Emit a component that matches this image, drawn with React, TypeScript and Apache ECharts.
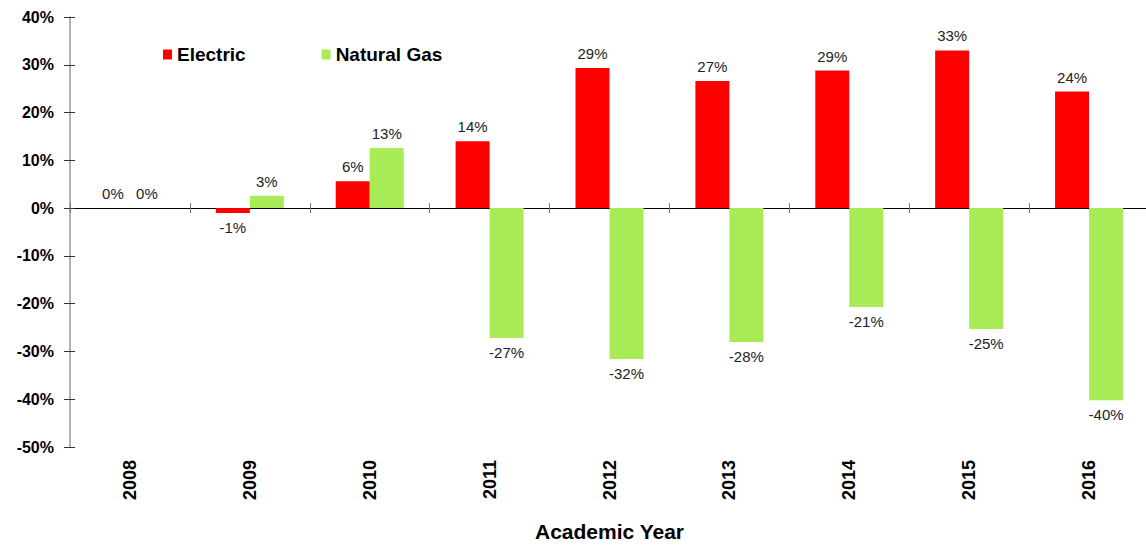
import React, { useEffect, useRef } from "react";
import * as echarts from "echarts";

const categories = ["2008", "2009", "2010", "2011", "2012", "2013", "2014", "2015", "2016"];
const electric = [0, -1.0, 5.6, 14.0, 29.3, 26.6, 28.8, 33.0, 24.4];
const naturalGas = [0, 2.6, 12.6, -27.2, -31.6, -28.0, -20.7, -25.3, -40.2];
const seriesNames = ["Electric", "Natural Gas"];
const yTicks = { min: -50, max: 40, interval: 10 };

const FONT = "'Liberation Sans', Arial, sans-serif";

function toItems(values: number[]) {
  return values.map((v) => ({
    value: v,
    label: { position: v < 0 ? "bottom" : "top" },
  }));
}

export default function App() {
  const ref = useRef<HTMLDivElement>(null);
  useEffect(() => {
    if (!ref.current) return;
    const chart = echarts.init(ref.current, undefined, { renderer: "svg" });
    const barLabel = {
      show: true,
      distance: 7,
      fontSize: 15,
      fontFamily: FONT,
      color: "#222",
      formatter: (p: any) => Math.round(p.value) + "%",
    };
    chart.setOption({
      animation: false,
      textStyle: { fontFamily: FONT },
      legend: {
        data: seriesNames,
        left: 158,
        top: 40,
        icon: "rect",
        itemWidth: 9,
        itemHeight: 10,
        itemGap: 76,
        textStyle: { fontSize: 19, fontWeight: "bold", color: "#000", fontFamily: FONT },
      },
      grid: {
        left: 70,
        right: -3,
        top: 17,
        bottom: 98,
        containLabel: false,
        outerBoundsMode: "none",
      },
      xAxis: [
        {
          type: "category",
          data: categories,
          position: "bottom",
          axisLine: { onZero: true, onZeroAxisIndex: 0, lineStyle: { color: "#000", width: 1 } },
          axisTick: { show: true, length: 5, lineStyle: { color: "#777" } },
          axisLabel: { show: false },
        },
        {
          type: "category",
          data: categories,
          position: "top",
          axisLine: { show: false, onZero: true, onZeroAxisIndex: 0 },
          axisTick: { show: true, length: 5, lineStyle: { color: "#777" } },
          axisLabel: { show: false },
        },
        {
          type: "category",
          data: categories,
          position: "bottom",
          axisLine: { show: false, onZero: false },
          axisTick: { show: false },
          axisLabel: {
            rotate: 90,
            margin: 13,
            fontSize: 18,
            fontWeight: "bold",
            color: "#000",
            fontFamily: FONT,
          },
          name: "Academic Year",
          nameLocation: "middle",
          nameGap: 74,
          nameTextStyle: { fontSize: 21, fontWeight: "bold", color: "#000", fontFamily: FONT },
        },
      ],
      yAxis: [
        {
          type: "value",
          min: yTicks.min,
          max: yTicks.max,
          interval: yTicks.interval,
          axisLine: { show: true, lineStyle: { color: "#999", width: 1.5 } },
          axisTick: { show: true, length: 6, lineStyle: { color: "#333" } },
          splitLine: { show: false },
          axisLabel: {
            formatter: "{value}%",
            fontSize: 16,
            fontWeight: "bold",
            color: "#000",
            margin: 16,
            fontFamily: FONT,
          },
        },
        {
          type: "value",
          position: "left",
          min: yTicks.min,
          max: yTicks.max,
          interval: yTicks.interval,
          axisLine: { show: false },
          axisTick: { show: true, inside: true, length: 5, lineStyle: { color: "#333" } },
          splitLine: { show: false },
          axisLabel: { show: false },
        },
      ],
      series: [
        {
          name: seriesNames[0],
          type: "bar",
          xAxisIndex: 0,
          yAxisIndex: 0,
          data: toItems(electric),
          barWidth: 34,
          barGap: "0%",
          itemStyle: { color: "#FF0000" },
          label: barLabel,
        },
        {
          name: seriesNames[1],
          type: "bar",
          xAxisIndex: 0,
          yAxisIndex: 0,
          data: toItems(naturalGas),
          barWidth: 34,
          barGap: "0%",
          itemStyle: { color: "#A9EA57" },
          label: barLabel,
        },
      ],
    });
    return () => chart.dispose();
  }, []);
  return (
    <div
      ref={ref}
      style={{ position: "fixed", left: 0, top: 0, width: 1146, height: 545, background: "#fff" }}
    />
  );
}
